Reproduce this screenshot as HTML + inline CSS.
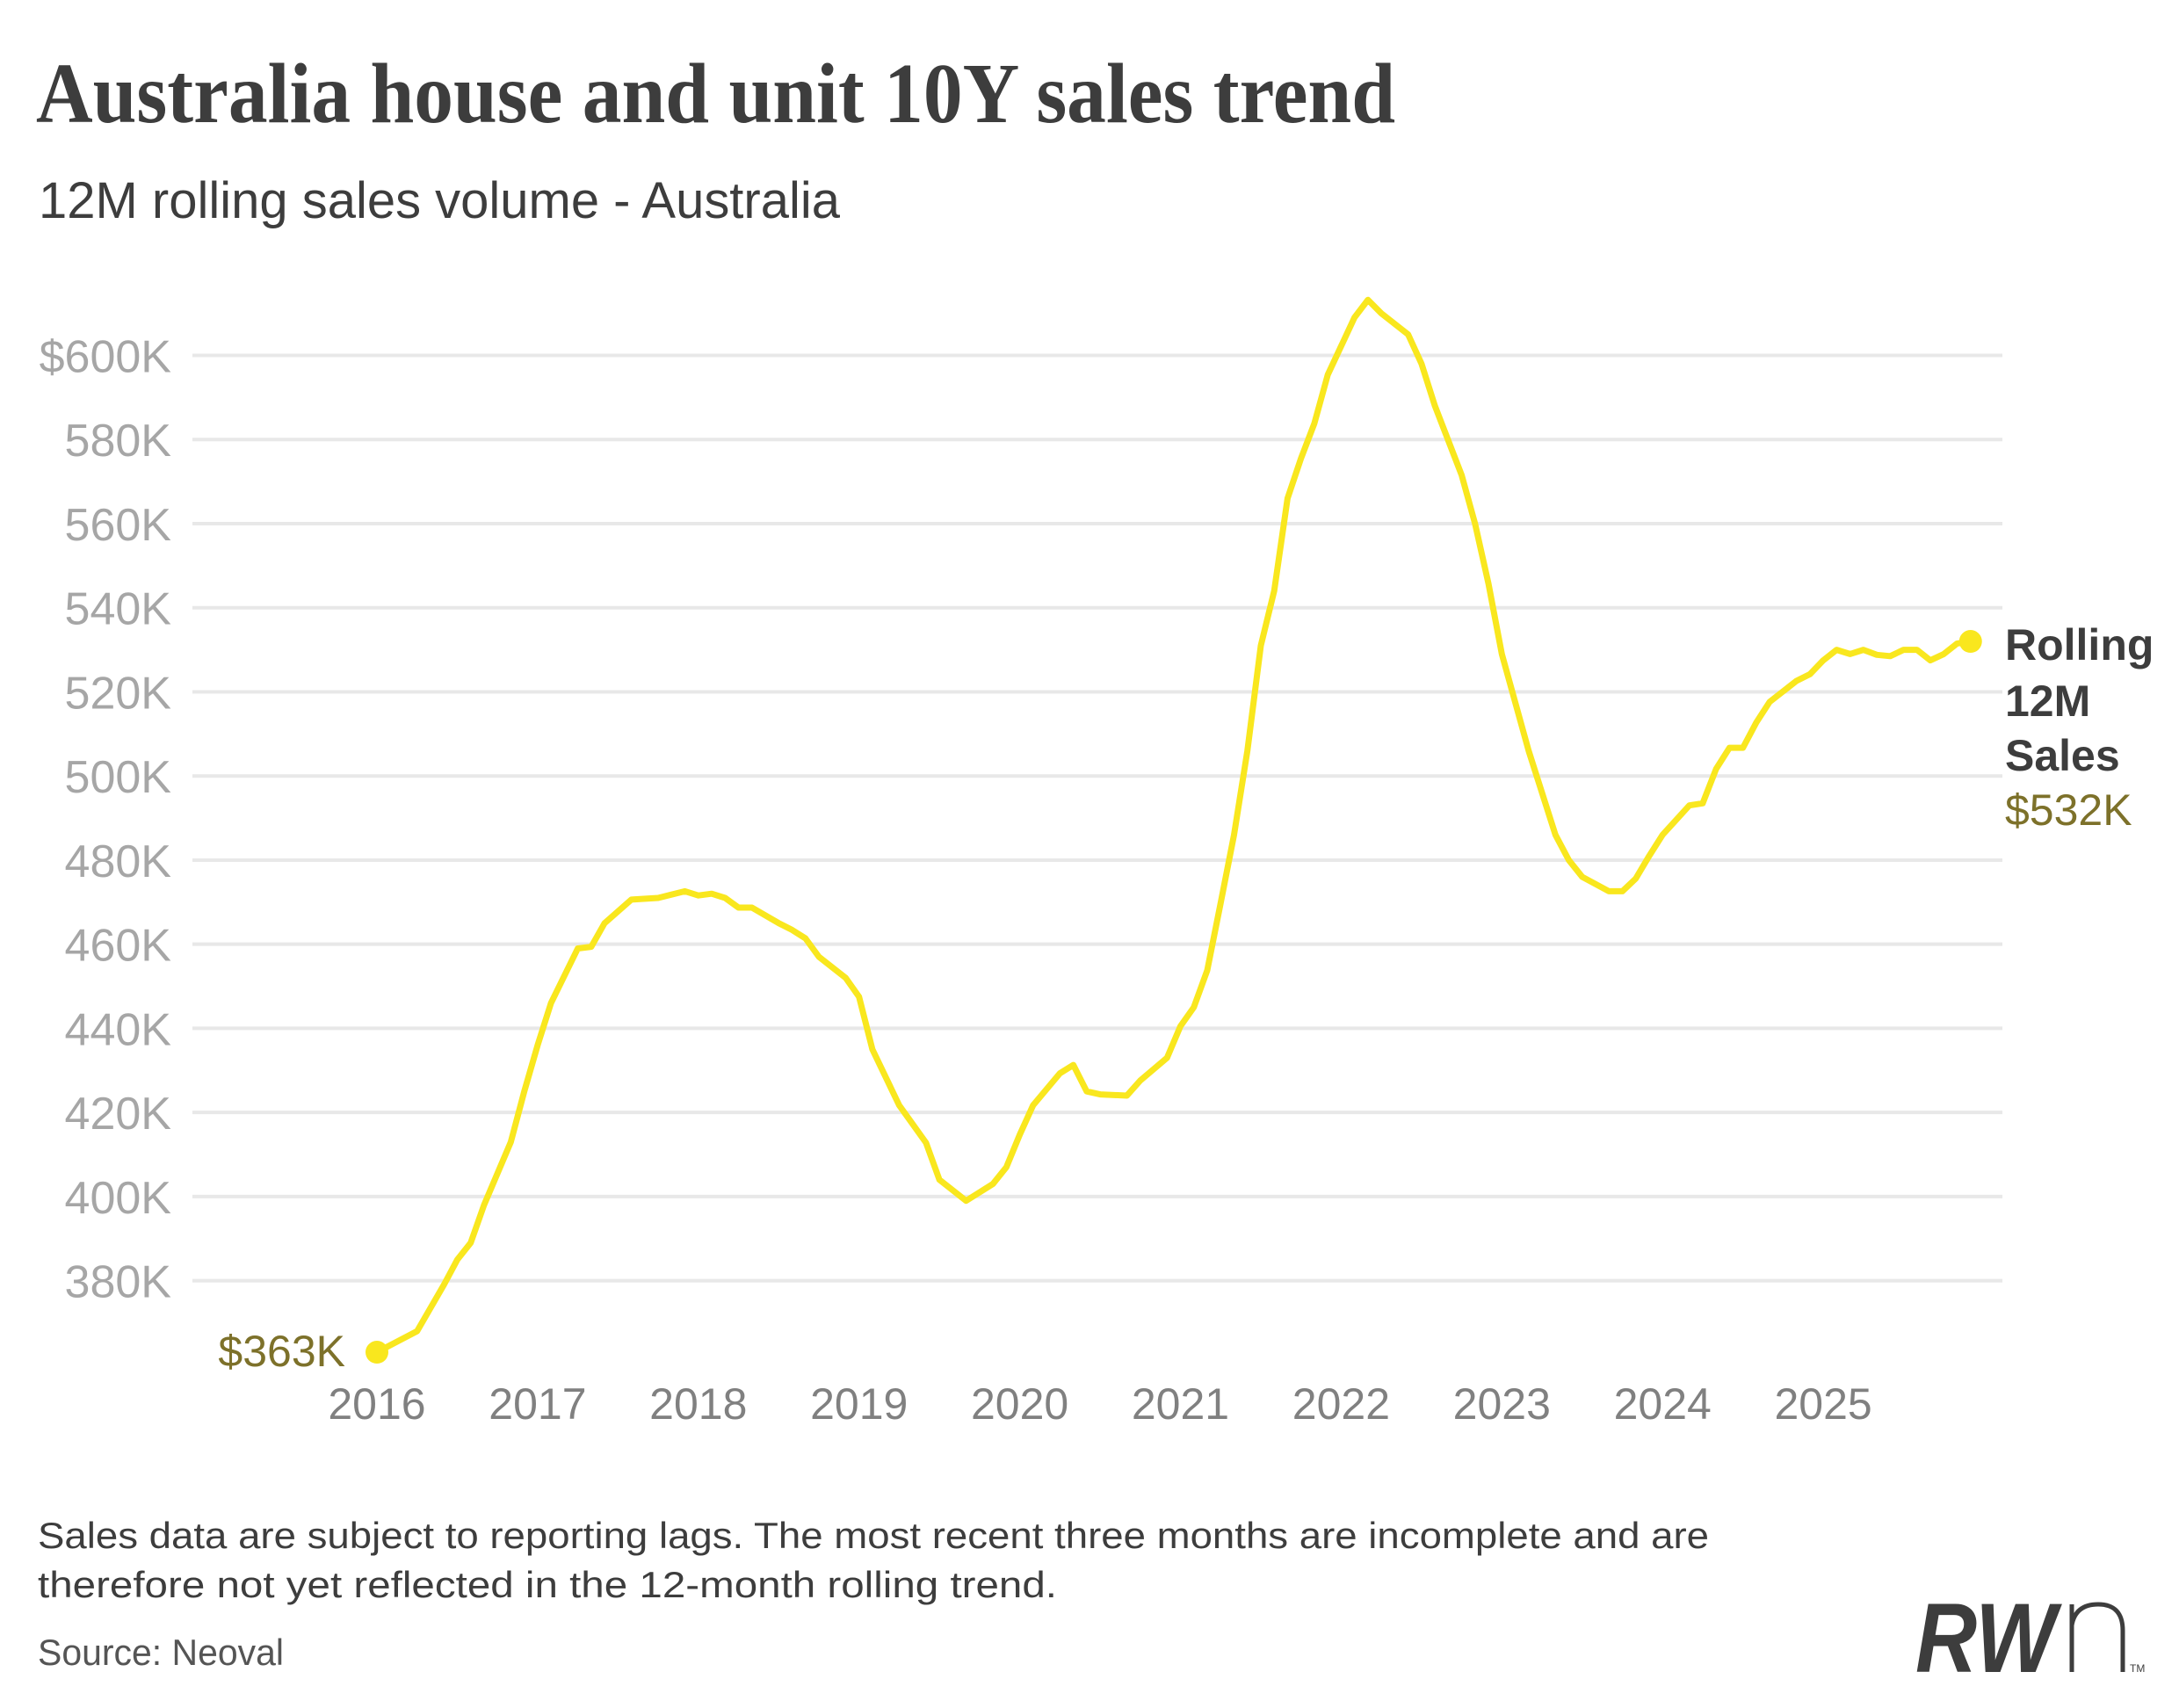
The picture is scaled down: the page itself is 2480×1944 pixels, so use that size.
<!DOCTYPE html>
<html><head><meta charset="utf-8"><style>
html,body{margin:0;padding:0;background:#fff;}
svg{display:block;}
</style></head><body>
<svg id="chart" width="2480" height="1944" viewBox="0 0 2480 1944" xmlns="http://www.w3.org/2000/svg">
<rect width="2480" height="1944" fill="#fff"/>
<text x="41" y="139" font-family="'Liberation Serif',serif" font-weight="bold" font-size="98" fill="#3d3d3d" textLength="1547" lengthAdjust="spacingAndGlyphs">Australia house and unit 10Y sales trend</text>
<text x="44" y="248" font-family="'Liberation Sans',sans-serif" font-size="58" fill="#3d3d3d" textLength="912" lengthAdjust="spacingAndGlyphs">12M rolling sales volume - Australia</text>
<g id="grid"></g>
<g id="ylabels"></g>
<g id="xlabels"></g>
<path id="line" fill="none" stroke="#f9e71e" stroke-width="7" stroke-linejoin="round" stroke-linecap="round"/>
<circle id="startDot" r="13" fill="#f9e71e"/>
<circle id="endDot" r="13" fill="#f9e71e"/>
<text id="startLabel" text-anchor="end" font-family="'Liberation Sans',sans-serif" font-size="50" fill="#7d712a"></text>
<text font-family="'Liberation Sans',sans-serif" font-weight="bold" font-size="50" fill="#3d3d3d"><tspan x="2282" y="751">Rolling</tspan><tspan x="2282" y="815">12M</tspan><tspan x="2282" y="877">Sales</tspan></text>
<text id="endLabel" x="2282" y="939" font-family="'Liberation Sans',sans-serif" font-size="50" fill="#7d712a"></text>
<text font-family="'Liberation Sans',sans-serif" font-size="42" fill="#3d3d3d"><tspan x="43" y="1762" textLength="1902" lengthAdjust="spacingAndGlyphs">Sales data are subject to reporting lags. The most recent three months are incomplete and are</tspan><tspan x="43" y="1818" textLength="1160" lengthAdjust="spacingAndGlyphs">therefore not yet reflected in the 12-month rolling trend.</tspan></text>
<text x="43" y="1895" font-family="'Liberation Sans',sans-serif" font-size="42" fill="#555" textLength="280" lengthAdjust="spacingAndGlyphs">Source: Neoval</text>
<g>
<text x="2180" y="1903" font-family="'Liberation Sans',sans-serif" font-weight="bold" font-style="italic" font-size="112" fill="#3d3d3d" textLength="160" lengthAdjust="spacingAndGlyphs">RW</text>
<path d="M2358 1903 V1826 M2358 1850 Q2362 1826 2388 1826 Q2416 1826 2416 1856 V1903" fill="none" stroke="#3d3d3d" stroke-width="5"/>
<text x="2424" y="1903" font-family="'Liberation Sans',sans-serif" font-size="12" fill="#3d3d3d">TM</text>
</g>
</svg>
<script>
const monthIdx = [0,3,5,6,7,8,10,11,12,13,15,16,17,19,21,23,24,25,26,27,28,30,31,32,33,35,36,37,39,41,42,44,46,47,48,49,51,52,53,54,56,57,59,60,61,62,63,64,65,66,67,68,69,70,71,73,74,75,77,78,79,81,82,83,84,86,88,89,90,92,93,94,95,96,98,99,100,101,102,103,104,106,107,108,109,110,111,112,113,114,115,116,117,118,119];
const salesK = [363,368,379,385,389,398,413,425,436,446,459,459.4,465,470.6,471,472.6,471.6,472,471,468.7,468.7,465,463.4,461.4,457,452,447.5,435,421.7,412.8,404,399,403,407,414.7,421.7,429.3,431.3,425,424.3,424,427.6,433,440.5,445,453.8,469.7,486,506,531,544,566,575.5,583.8,595.4,609,613.2,610,605,598,588,571.5,560,545.7,529,506,486,480,476,472.6,472.6,475.6,481,486,493,493.5,501.7,506.7,506.7,512.7,517.6,522.6,524.2,527.5,530,529,530,528.8,528.5,530,530,527.5,529,531.5,532];
const yTicks = [380,400,420,440,460,480,500,520,540,560,580,600];
const yTickLabels = ['380K','400K','420K','440K','460K','480K','500K','520K','540K','560K','580K','$600K'];
const xYears = [2016,2017,2018,2019,2020,2021,2022,2023,2024,2025];

const NS='http://www.w3.org/2000/svg';
const X0=429, PX_PER_YEAR=182.9, Y600=404.5, PX_PER_K=95.74/20;
function xScale(m){return X0 + m/12*PX_PER_YEAR;}
function yScale(v){return Y600 + (600 - v)*PX_PER_K;}

const grid=document.getElementById('grid'), yl=document.getElementById('ylabels'), xl=document.getElementById('xlabels');
yTicks.forEach((t,i)=>{
  const ln=document.createElementNS(NS,'line');
  
  
  ln.setAttribute('x1',219);ln.setAttribute('x2',2279);
  ln.setAttribute('y1',yScale(t));ln.setAttribute('y2',yScale(t));
  ln.setAttribute('stroke','#e8e8e8');ln.setAttribute('stroke-width','4');
  grid.appendChild(ln);
  const tx=document.createElementNS(NS,'text');
  
  
  tx.setAttribute('x',195);tx.setAttribute('y',yScale(t)+19);
  tx.setAttribute('text-anchor','end');
  tx.setAttribute('font-family',"'Liberation Sans',sans-serif");
  tx.setAttribute('font-size','52');tx.setAttribute('fill','#a6a6a6');
  tx.textContent=yTickLabels[i];
  yl.appendChild(tx);
});
xYears.forEach((yr,i)=>{
  const tx=document.createElementNS(NS,'text');
  
  
  tx.setAttribute('x',xScale((yr-2016)*12));tx.setAttribute('y',1615);
  tx.setAttribute('text-anchor','middle');
  tx.setAttribute('font-family',"'Liberation Sans',sans-serif");
  tx.setAttribute('font-size','50');tx.setAttribute('fill','#808080');
  tx.textContent=String(yr);
  xl.appendChild(tx);
});
let d='';
monthIdx.forEach((m,i)=>{d+=(i?'L':'M')+xScale(m).toFixed(1)+' '+yScale(salesK[i]).toFixed(1)+' ';});
document.getElementById('line').setAttribute('d',d);
const n=salesK.length-1;
const sd=document.getElementById('startDot');
sd.setAttribute('cx',xScale(monthIdx[0]));sd.setAttribute('cy',yScale(salesK[0]));
const ed=document.getElementById('endDot');
ed.setAttribute('cx',xScale(monthIdx[n]));ed.setAttribute('cy',yScale(salesK[n]));
const sl=document.getElementById('startLabel');
sl.setAttribute('x',xScale(monthIdx[0])-36);sl.setAttribute('y',yScale(salesK[0])+16);
sl.textContent='$'+Math.round(salesK[0])+'K';
document.getElementById('endLabel').textContent='$'+Math.round(salesK[n])+'K';
</script>
</body></html>
